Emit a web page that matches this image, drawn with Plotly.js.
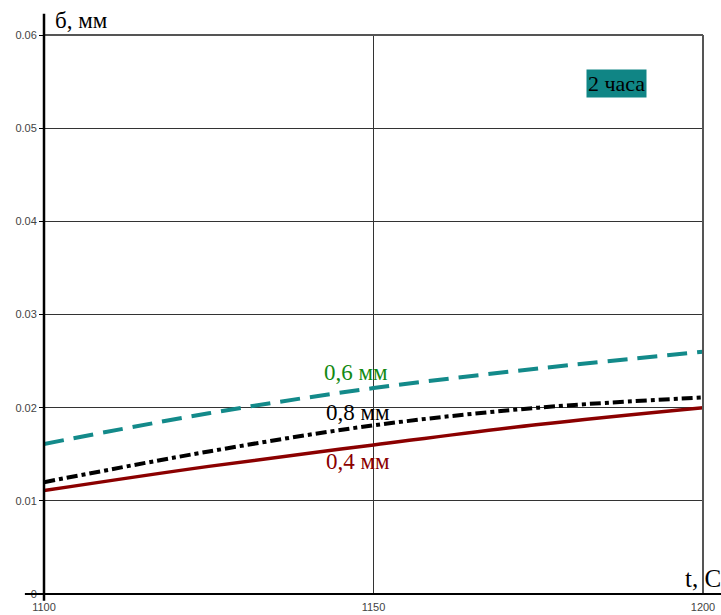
<!DOCTYPE html>
<html>
<head>
<meta charset="utf-8">
<script src="https://cdn.plot.ly/plotly-3.0.1.min.js"></script>
<style>html,body{margin:0;padding:0;background:#fff;}#chart{width:721px;height:615px;}</style>
</head>
<body>
<div id="chart"></div>
<script>
// Temperature, °C
const temperature = [1100, 1125, 1150, 1175, 1200];
// Thickness δ, mm, for 2 hours
const series06 = [0.0161, 0.0194, 0.0221, 0.0242, 0.0260];
const series08 = [0.0120, 0.0153, 0.0181, 0.0200, 0.0211];
const series04 = [0.0111, 0.0137, 0.0160, 0.0182, 0.0200];
const seriesNames = ['0,6 мм', '0,8 мм', '0,4 мм'];
const xTicks = [1100, 1150, 1200];
const yTicks = [0, 0.01, 0.02, 0.03, 0.04, 0.05, 0.06];
const yTickText = ['0', '0.01', '0.02', '0.03', '0.04', '0.05', '0.06'];

const serif = 'Liberation Serif, Times New Roman, serif';

const traces = [
  {x: temperature, y: series06, mode: 'lines', name: seriesNames[0],
   line: {color: '#138a8a', width: 4, dash: '20px,10px', shape: 'spline'}},
  {x: temperature, y: series08, mode: 'lines', name: seriesNames[1],
   line: {color: '#000000', width: 4, dash: '11px,4px,4px,4px', shape: 'spline'}},
  {x: temperature, y: series04, mode: 'lines', name: seriesNames[2],
   line: {color: '#8b0000', width: 3.5, shape: 'spline'}}
];

const layout = {
  width: 721, height: 615,
  margin: {l: 44, r: 18, t: 35, b: 21, pad: 0},
  paper_bgcolor: '#ffffff', plot_bgcolor: '#ffffff',
  showlegend: false,
  xaxis: {
    range: [1100, 1200], tickvals: xTicks, ticktext: xTicks.map(String),
    showgrid: true, gridcolor: '#333333', gridwidth: 1,
    zeroline: false, showline: false, ticks: 'outside', ticklen: 3, tickcolor: 'rgba(0,0,0,0)',
    tickfont: {family: 'Liberation Sans, Arial, sans-serif', size: 11, color: '#444'},
    fixedrange: true
  },
  yaxis: {
    range: [0, 0.06], tickvals: yTicks, ticktext: yTickText,
    showgrid: true, gridcolor: '#333333', gridwidth: 1,
    zeroline: false, showline: false, ticks: 'outside', ticklen: 4, tickcolor: '#000',
    tickfont: {family: 'Liberation Sans, Arial, sans-serif', size: 11, color: '#444'},
    fixedrange: true
  },
  shapes: [
    // frame top and right
    {type: 'line', xref: 'paper', yref: 'paper', x0: 0, x1: 1, y0: 1, y1: 1, line: {color: '#555', width: 2}},
    {type: 'line', xref: 'paper', yref: 'paper', x0: 1, x1: 1, y0: 0, y1: 1, line: {color: '#555', width: 2}},
    // axes extending past the plot
    {type: 'line', xref: 'paper', yref: 'paper', x0: -0.029, x1: 1.03, y0: 0, y1: 0, line: {color: '#000', width: 2}},
    {type: 'line', xref: 'paper', yref: 'paper', x0: 0, x1: 0, y0: -0.012, y1: 1.038, line: {color: '#000', width: 2.5}}
  ],
  annotations: [
    {x: 1147.3, y: 0.0238, xref: 'x', yref: 'y', text: seriesNames[0], showarrow: false,
     font: {family: serif, size: 23, color: '#128a12'}},
    {x: 1147.6, y: 0.0195, xref: 'x', yref: 'y', text: seriesNames[1], showarrow: false,
     font: {family: serif, size: 23, color: '#000000'}},
    {x: 1147.6, y: 0.0142, xref: 'x', yref: 'y', text: seriesNames[2], showarrow: false,
     font: {family: serif, size: 23, color: '#8b0000'}},
    {x: 1186.8, y: 0.0548, xref: 'x', yref: 'y', text: '2 часа', showarrow: false,
     bgcolor: '#108585', borderpad: 1,
     font: {family: serif, size: 22, color: '#000000'}},
    {x: 0.013, y: 1.0, xref: 'paper', yref: 'paper', xanchor: 'left', yanchor: 'bottom',
     text: 'б, мм', showarrow: false, font: {family: serif, size: 23, color: '#000'}},
    {x: 1.03, y: 0.0, xref: 'paper', yref: 'paper', xanchor: 'right', yanchor: 'bottom',
     text: 't, С', showarrow: false, font: {family: serif, size: 25, color: '#000'}}
  ]
};

Plotly.newPlot('chart', traces, layout, {displayModeBar: false, staticPlot: true});
</script>
</body>
</html>
